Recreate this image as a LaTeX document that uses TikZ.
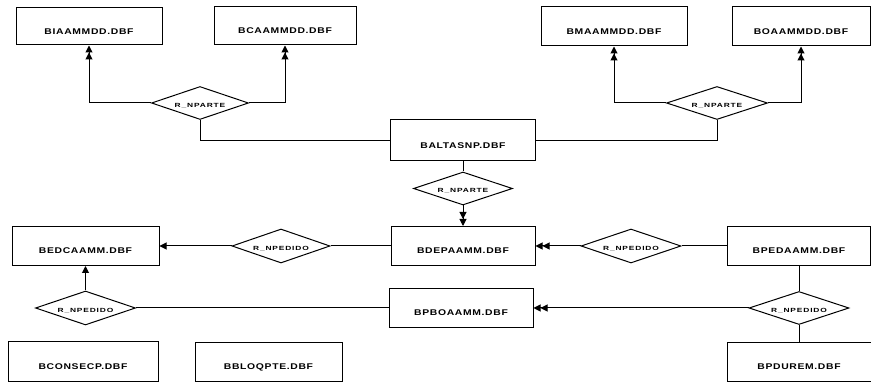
\documentclass[tikz,border=0pt]{standalone}
\usepackage{fontspec}
\usetikzlibrary{shapes.geometric,arrows.meta}
\newfontfamily\tablefont{Liberation Sans}[FakeStretch=1.25,LetterSpace=8]
\newfontfamily\relfont{Liberation Sans}[FakeStretch=1.4,LetterSpace=14]
\begin{document}
\begin{tikzpicture}[x=1pt,y=-1pt,
  line width=1pt,
  table/.style={draw, rectangle, inner sep=0pt, minimum height=39pt,
    font=\tablefont\bfseries\fontsize{8.3}{9}\selectfont,
    text height=16pt, text depth=0pt},
  rel/.style={draw, diamond, aspect=3, inner sep=0pt,
    minimum width=99pt, minimum height=33pt,
    font=\relfont\bfseries\fontsize{6}{7}\selectfont,
    text height=9pt, text depth=0pt},
  one/.style={-{Triangle[length=7pt,width=7pt]}},
  many/.style={-{Triangle[length=7pt,width=7pt] Triangle[length=7pt,width=7pt]}}]
\useasboundingbox (0,0) rectangle (871,382);

% files
\node[table, minimum width=146pt, minimum height=37pt] (bia) at (89,26.5) {BIAAMMDD.DBF};
\node[table, minimum width=142pt, minimum height=38pt] (bca) at (285,26) {BCAAMMDD.DBF};
\node[table, minimum width=146pt] (bma) at (614,26.5) {BMAAMMDD.DBF};
\node[table, minimum width=138pt] (boa) at (801,26.5) {BOAAMMDD.DBF};
\node[table, minimum width=145pt, minimum height=41pt] (baltas) at (463,140.5) {BALTASNP.DBF};
\node[table, minimum width=147pt] (bedca) at (85.5,246) {BEDCAAMM.DBF};
\node[table, minimum width=144pt] (bdepa) at (463,246) {BDEPAAMM.DBF};
\node[table, minimum width=143pt] (bpeda) at (799,246) {BPEDAAMM.DBF};
\node[table, minimum width=144pt] (bpboa) at (461,308) {BPBOAAMM.DBF};
\node[table, minimum width=150pt] (bconsecp) at (83,361.5) {BCONSECP.DBF};
\node[table, minimum width=147pt, minimum height=38pt] (bbloq) at (268.5,362) {BBLOQPTE.DBF};
\node[table, minimum width=144pt, minimum height=38pt] (bpdurem) at (799,362) {BPDUREM.DBF};

% relations
\node[rel, minimum width=97pt] (dl) at (200,103) {R\_NPARTE};
\node[rel, minimum width=101pt] (dr) at (717,103) {R\_NPARTE};
\node[rel] (dm) at (463,188.5) {R\_NPARTE};
\node[rel, minimum width=98pt, minimum height=34pt] (dn1) at (281,246) {R\_NPEDIDO};
\node[rel, minimum width=100pt, minimum height=34pt] (dn2) at (631,246) {R\_NPEDIDO};
\node[rel, minimum width=100pt] (dn3) at (799,308) {R\_NPEDIDO};
\node[rel, minimum width=100pt, minimum height=34pt] (dn4) at (85.5,308) {R\_NPEDIDO};

% links
\draw[many] (dl.west) -| (bia.south);
\draw[many] (dl.east) -| (bca.south);
\draw (dl.south) |- (baltas.west);
\draw[many] (dr.west) -| (bma.south);
\draw[many] (dr.east) -| (boa.south);
\draw (dr.south) |- (baltas.east);
\draw (baltas.south) -- (dm.north);
\draw[many] (dm.south) -- (bdepa.north);
\draw[one] (dn1.west) -- (bedca.east);
\draw (dn1.east) -- (bdepa.west);
\draw (bpeda.west) -- (dn2.east);
\draw[many] (dn2.west) -- (bdepa.east);
\draw (bpeda.south) -- (dn3.north);
\draw (dn3.south) -- (bpdurem.north);
\draw[many] (dn3.west) -- (bpboa.east);
\draw[one] (dn4.north) -- (bedca.south);
\draw (dn4.east) -- (bpboa.west);
\end{tikzpicture}
\end{document}
